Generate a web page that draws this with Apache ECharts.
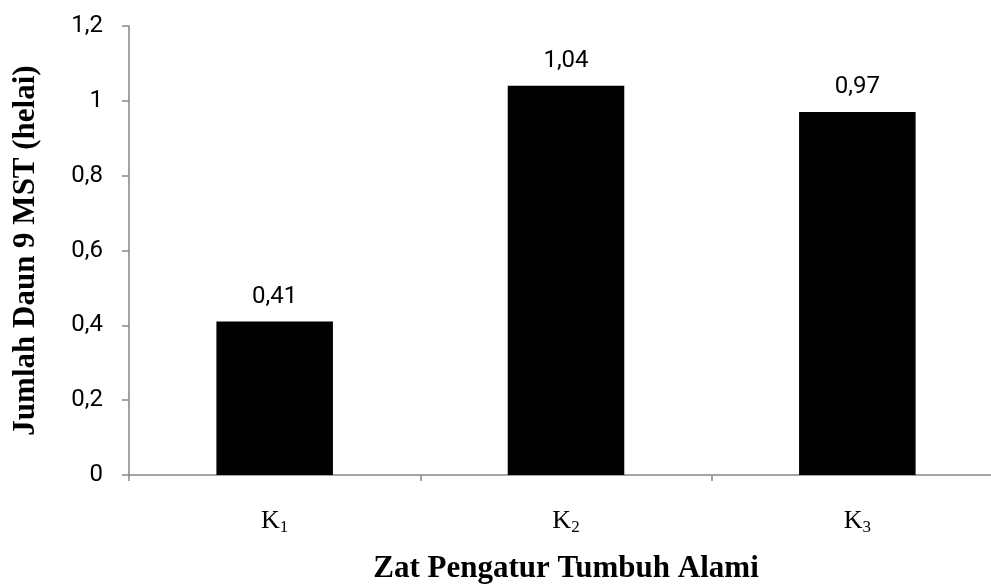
<!DOCTYPE html>
<html>
<head>
<meta charset="utf-8">
<script src="https://cdn.jsdelivr.net/npm/echarts@6/dist/echarts.min.js"></script>
<style>html,body{margin:0;padding:0;background:#fff}#c{width:991px;height:585px}</style>
</head>
<body>
<div id="c"></div>
<script>
const categories = ['K1', 'K2', 'K3'];
const subscripts = ['1', '2', '3'];
const values = [0.41, 1.04, 0.97];
const yTicks = { min: 0, max: 1.2, interval: 0.2 };
const xTitle = 'Zat Pengatur Tumbuh Alami';
const yTitle = 'Jumlah Daun 9 MST (helai)';

const chart = echarts.init(document.getElementById('c'));
const axisGray = '#868686';
const numFont = 'Roboto';
chart.setOption({
  animation: false,
  grid: { left: 129, right: -12, top: 26, bottom: 110, containLabel: false, outerBoundsMode: 'none' },
  xAxis: {
    type: 'category',
    data: categories,
    name: xTitle,
    nameLocation: 'middle',
    nameGap: 78,
    nameTextStyle: { fontFamily: 'Liberation Serif', fontWeight: 'bold', fontSize: 31, color: '#000' },
    axisLine: { lineStyle: { color: axisGray, width: 1.5 } },
    axisTick: { show: true, length: 6, lineStyle: { color: axisGray, width: 1.5 } },
    axisLabel: {
      margin: 32,
      formatter: function (v, i) { return '{k|K}{s|' + subscripts[i] + '}'; },
      rich: {
        k: { fontFamily: 'Liberation Serif', fontSize: 26, color: '#000' },
        s: { fontFamily: 'Liberation Serif', fontSize: 17, color: '#000', padding: [12, 0, 0, 0] }
      }
    }
  },
  yAxis: {
    type: 'value',
    min: yTicks.min, max: yTicks.max, interval: yTicks.interval,
    name: yTitle,
    nameLocation: 'middle',
    nameGap: 88,
    nameRotate: 90,
    nameTextStyle: { fontFamily: 'Liberation Serif', fontWeight: 'bold', fontSize: 31, color: '#000' },
    axisLine: { show: true, lineStyle: { color: axisGray, width: 1.5 } },
    axisTick: { show: true, length: 7, lineStyle: { color: axisGray, width: 1.5 } },
    splitLine: { show: false },
    axisLabel: {
      margin: 26,
      fontFamily: numFont, fontSize: 24, color: '#000',
      formatter: function (v) { return String(Math.round(v * 10) / 10).replace('.', ','); }
    }
  },
  series: [{
    type: 'bar',
    data: values,
    barWidth: '40%',
    itemStyle: { color: '#000' },
    label: {
      show: true, position: 'top', distance: 13,
      fontFamily: numFont, fontSize: 24, color: '#000',
      formatter: function (p) { return String(p.value).replace('.', ','); }
    }
  }]
});
</script>
</body>
</html>
